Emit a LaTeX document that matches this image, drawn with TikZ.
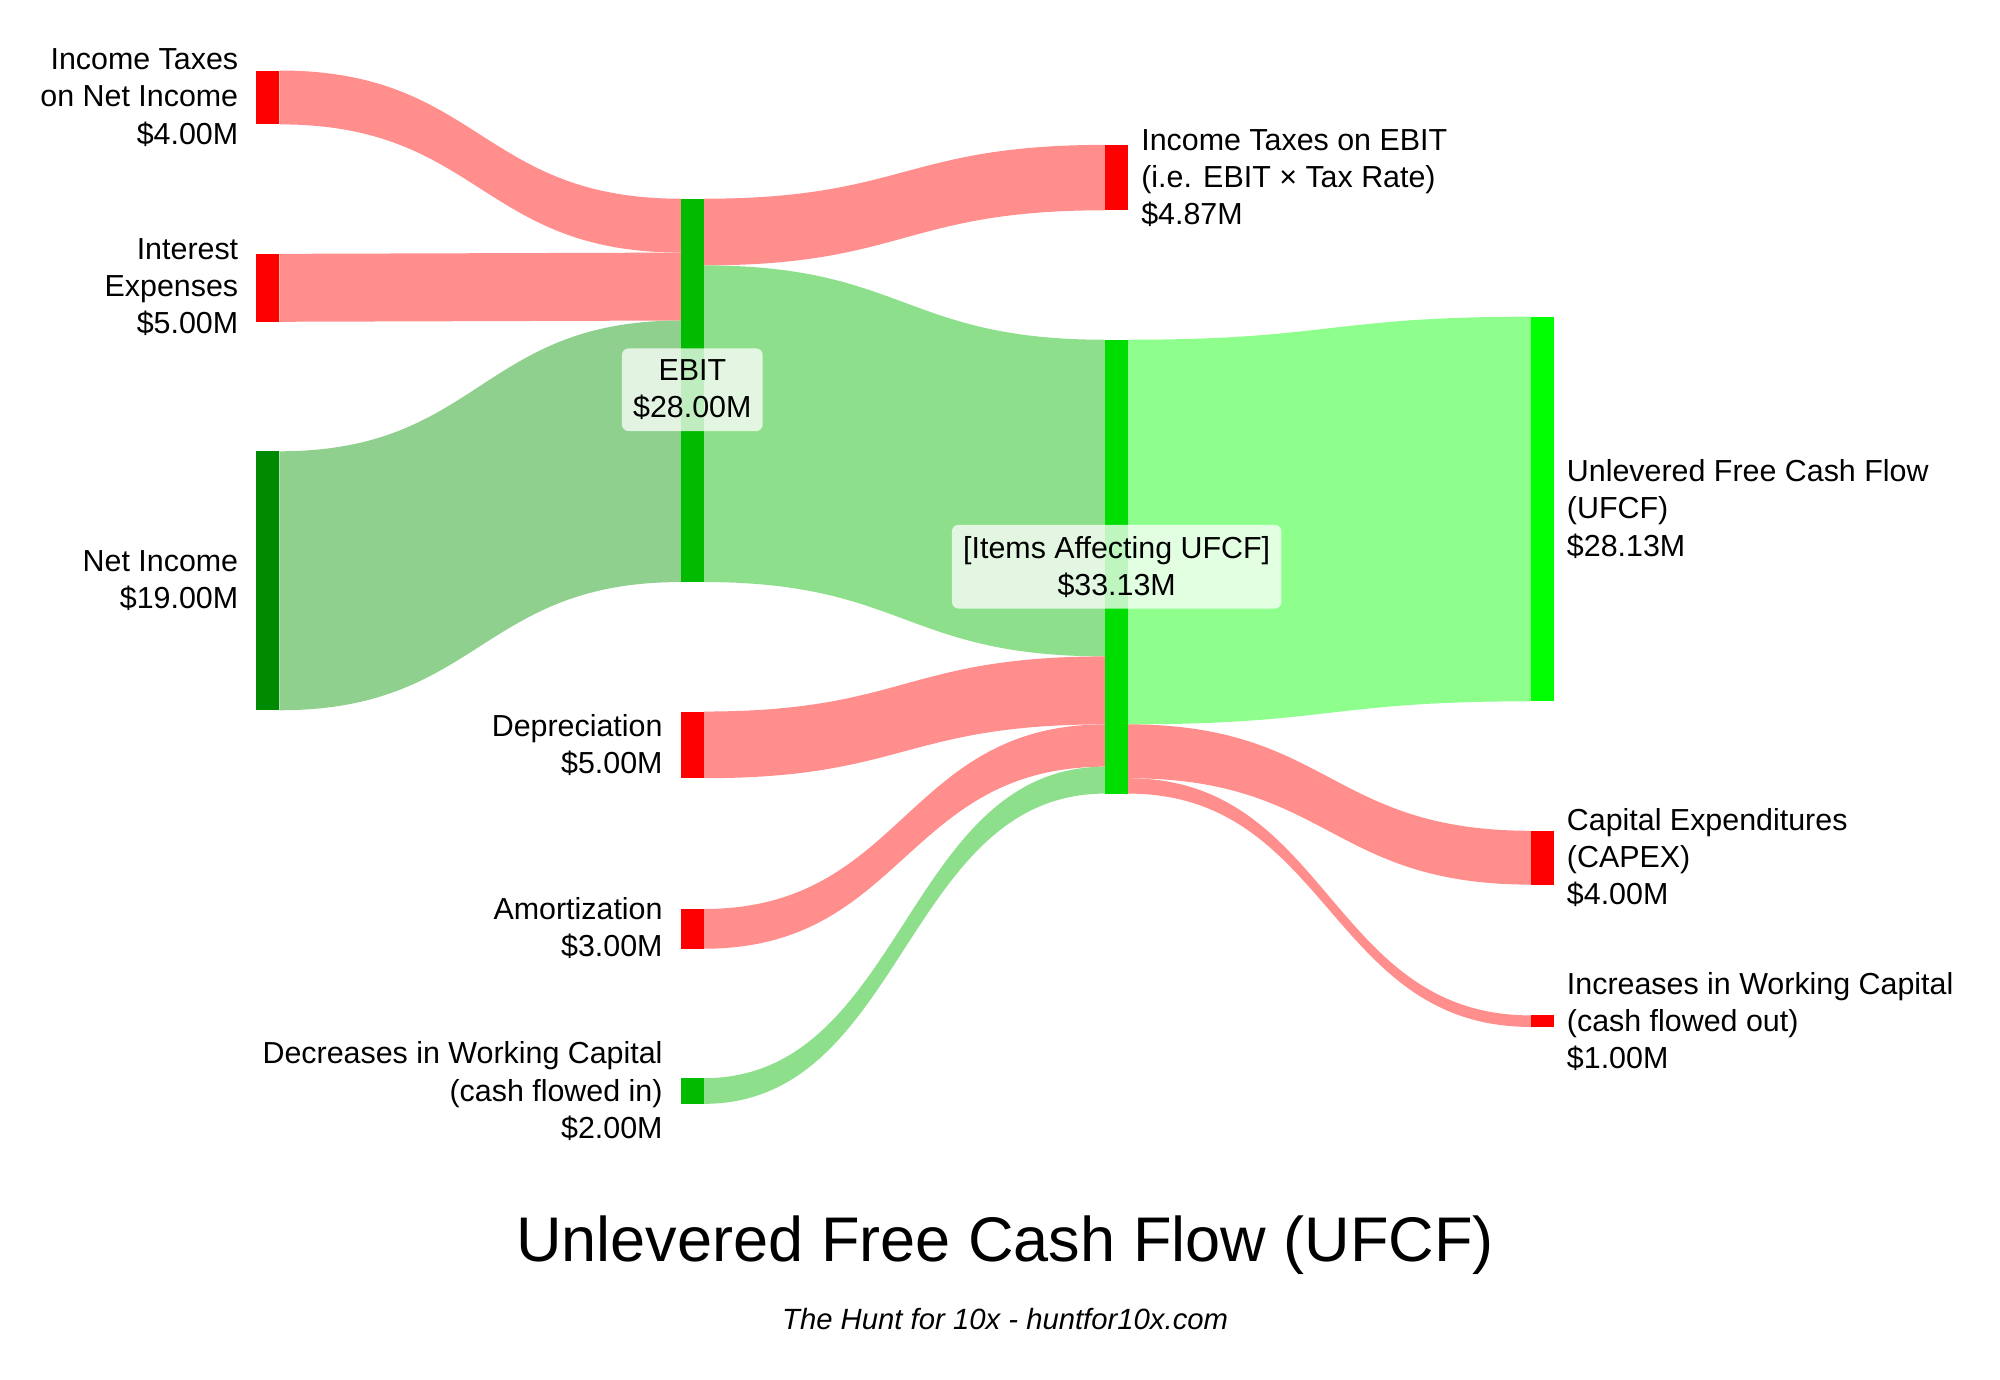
\documentclass[tikz,border=0pt]{standalone}
\usepackage{fontspec}
\setmainfont{Liberation Sans}
\definecolor{barred}{HTML}{FF0000}
\definecolor{flowred}{HTML}{FF8E8C}
\definecolor{flowgreen}{HTML}{8EDF8C}
\definecolor{flownet}{HTML}{8FD08F}
\definecolor{flowufcf}{HTML}{8EFF8C}
\definecolor{bardark}{HTML}{008A00}
\definecolor{barmid}{HTML}{00BB00}
\definecolor{baritems}{HTML}{00DD00}
\definecolor{barufcf}{HTML}{00FF00}
% flow: color, x1, top1, bottom1, x2, top2, bottom2
\newcommand\sflow[7]{\fill[#1] (#2,#3) .. controls ({(#2+#5)/2},#3) and ({(#2+#5)/2},#6) .. (#5,#6) -- (#5,#7) .. controls ({(#2+#5)/2},#7) and ({(#2+#5)/2},#4) .. (#2,#4) -- cycle;}
\newcommand\sbar[4]{\fill[#1] (#2,#3) rectangle ({#2+18},#4);}
\tikzset{lbl/.style={font=\fontsize{13.5}{16.5}\selectfont, align=left, anchor=west},
  rlbl/.style={font=\fontsize{13.5}{16.5}\selectfont, align=right, anchor=east},
  boxlbl/.style={font=\fontsize{13.5}{16.5}\selectfont, align=center, fill=white, fill opacity=0.75, text opacity=1, rounded corners=3pt, inner sep=5pt}}
\begin{document}
\begin{tikzpicture}[x=0.02cm,y=-0.02cm]
\useasboundingbox (0,0) rectangle (1560,1076);
% flows
\sflow{flowred}{218}{55}{97}{531}{155}{197}
\sflow{flowred}{218}{198}{251}{531}{197}{250}
\sflow{flownet}{218}{352}{554}{531}{250}{454}
\sflow{flowred}{549}{155}{207}{862}{113}{164}
\sflow{flowgreen}{549}{207}{454}{862}{265}{512}
\sflow{flowred}{549}{555}{607}{862}{512}{565}
\sflow{flowred}{549}{709}{740}{862}{565}{598}
\sflow{flowgreen}{549}{841}{861}{862}{598}{619}
\sflow{flowufcf}{880}{265}{565}{1194}{247}{547}
\sflow{flowred}{880}{565}{607}{1194}{648}{690}
\sflow{flowred}{880}{607}{619}{1194}{792}{801}
% bars
\sbar{barred}{200}{55}{97}
\sbar{barred}{200}{198}{251}
\sbar{bardark}{200}{352}{554}
\sbar{barmid}{531}{155}{454}
\sbar{barred}{531}{555}{607}
\sbar{barred}{531}{709}{740}
\sbar{barmid}{531}{841}{861}
\sbar{baritems}{862}{265}{619}
\sbar{barred}{862}{113}{164}
\sbar{barufcf}{1194}{247}{547}
\sbar{barred}{1194}{648}{690}
\sbar{barred}{1194}{792}{801}
% labels
\node[rlbl] (itni) at (192,76) {Income Taxes\\on Net Income\\\$4.00M};
\node[rlbl] (int) at (192,224) {Interest\\Expenses\\\$5.00M};
\node[rlbl] (ni) at (192,453) {Net Income\\\$19.00M};
\node[rlbl] (dep) at (523,581) {Depreciation\\\$5.00M};
\node[rlbl] (amo) at (523,724) {Amortization\\\$3.00M};
\node[rlbl] (dwc) at (523,851) {Decreases in Working Capital\\(cash flowed in)\\\$2.00M};
\node[boxlbl] (ebit) at (540,304) {EBIT\\\$28.00M};
\node[boxlbl] (items) at (871,442) {[Items Affecting UFCF]\\\$33.13M};
\node[lbl] (itebit) at (884,139) {Income Taxes on EBIT\\(i.e. EBIT × Tax Rate)\\\$4.87M};
\node[lbl] (ufcf) at (1216,397) {Unlevered Free Cash Flow\\(UFCF)\\\$28.13M};
\node[lbl] (capex) at (1216,669) {Capital Expenditures\\(CAPEX)\\\$4.00M};
\node[lbl] (iwc) at (1216,797) {Increases in Working Capital\\(cash flowed out)\\\$1.00M};
\node[font=\fontsize{28}{32}\selectfont] (title) at (784,971) {Unlevered Free Cash Flow (UFCF)};
\node[font=\itshape\fontsize{13}{15}\selectfont] (sub) at (784,1029) {The Hunt for 10x - huntfor10x.com};
\end{tikzpicture}
\end{document}
